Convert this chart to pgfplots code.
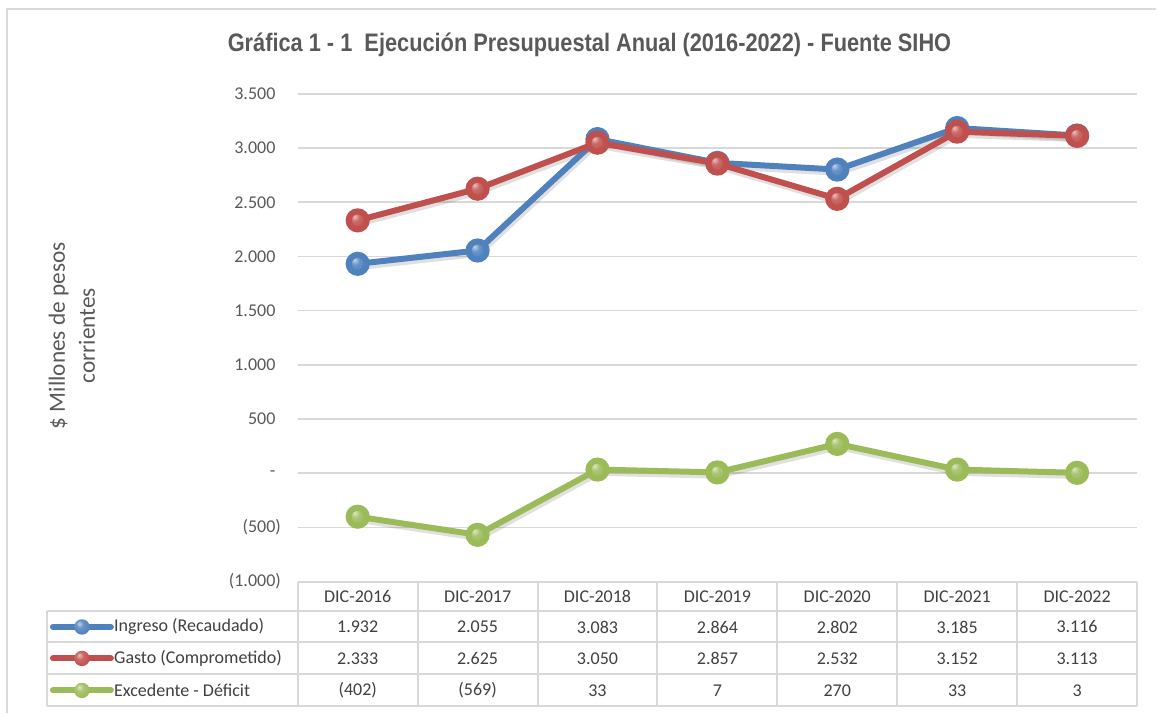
\documentclass[border=0pt]{standalone}
\usepackage{pgfplots}
\pgfplotsset{compat=1.18}
\usepackage{fontspec}
\setmainfont{Carlito}
\newfontfamily\titlefont[FakeStretch=0.86]{Liberation Sans}

\definecolor{cblue}{HTML}{4F81BD}
\definecolor{cred}{HTML}{C0504D}
\definecolor{cgreen}{HTML}{9BBB59}
\definecolor{gridc}{HTML}{D9D9D9}
\definecolor{txt}{HTML}{595959}
\definecolor{tabtxt}{HTML}{404040}

% Excel-like 3D balls: highlight up left, darker rim
\pgfdeclareradialshading{bb}{\pgfpoint{-9bp}{11bp}}{color(0bp)=(cblue!35!white); color(12bp)=(cblue!85!white); color(30bp)=(cblue); color(45bp)=(cblue!80!black); color(65bp)=(cblue!60!black)}
\pgfdeclareradialshading{br}{\pgfpoint{-9bp}{11bp}}{color(0bp)=(cred!35!white); color(12bp)=(cred!85!white); color(30bp)=(cred); color(45bp)=(cred!80!black); color(65bp)=(cred!60!black)}
\pgfdeclareradialshading{bg}{\pgfpoint{-9bp}{11bp}}{color(0bp)=(cgreen!35!white); color(12bp)=(cgreen!85!white); color(30bp)=(cgreen); color(45bp)=(cgreen!80!black); color(65bp)=(cgreen!60!black)}

\pgfdeclareplotmark{ballb}{\shade[shading=bb] (0pt,0pt) circle[radius=6.8pt];}
\pgfdeclareplotmark{ballr}{\shade[shading=br] (0pt,0pt) circle[radius=6.8pt];}
\pgfdeclareplotmark{ballg}{\shade[shading=bg] (0pt,0pt) circle[radius=6.8pt];}

\begin{document}
\begin{tikzpicture}
% everything outside the axis in reference pixels (1 px = 0.75pt, y downwards)
\begin{scope}[x=0.75pt,y=-0.75pt]
\path (0,0) rectangle (1157,714);
\draw[gridc, line width=1.5pt] (7,714) -- (7,9) -- (1157,9);

% title
\node[text=txt, font=\titlefont\bfseries\fontsize{19}{22}\selectfont] at (590,45)
  {Gráfica 1 - 1\ \ Ejecución Presupuestal Anual (2016-2022) - Fuente SIHO};

% y label
\node[rotate=90, align=center, text=txt, font=\fontsize{17.5}{22.5}\selectfont] at (72,336)
  {\$ Millones de pesos\\corrientes};
\end{scope}

\begin{axis}[
    at={(223.5pt,-436.5pt)}, anchor=south west,
    scale only axis, width=630pt, height=366pt,
    xmin=-0.5, xmax=6.5, ymin=-1000, ymax=3500,
    axis line style={draw=none},
    xtick=\empty,
    ytick={-1000,-500,0,500,1000,1500,2000,2500,3000,3500},
    yticklabels={(1.000),(500),-\hphantom{)},500\hphantom{)},1.000\hphantom{)},1.500\hphantom{)},2.000\hphantom{)},2.500\hphantom{)},3.000\hphantom{)},3.500\hphantom{)}},
    major tick length=0pt,
    ymajorgrids, grid style={gridc, line width=1.2pt},
    yticklabel style={font=\fontsize{13.5}{16}\selectfont, text=txt, anchor=east, inner sep=0pt, xshift=-12.5pt},
    /pgf/number format/assume math mode=true,
    clip=false,
    shadow/.style={black, opacity=0.12, line width=5pt, forget plot, transform canvas={xshift=1pt, yshift=-2.2pt}},
]
% soft shadows under the lines
\addplot[shadow] coordinates {
    (0,1932) (1,2055) (2,3083) (3,2864) (4,2802) (5,3185) (6,3116)};
\addplot[shadow] coordinates {
    (0,2333) (1,2625) (2,3050) (3,2857) (4,2532) (5,3152) (6,3113)};
\addplot[shadow] coordinates {
    (0,-402) (1,-569) (2,33) (3,7) (4,270) (5,33) (6,3)};
% Ingreso (Recaudado)
\addplot[cblue, line width=4.5pt, mark=ballb] coordinates {
    (0,1932) (1,2055) (2,3083) (3,2864) (4,2802) (5,3185) (6,3116)};
% Gasto (Comprometido)
\addplot[cred, line width=4.5pt, mark=ballr] coordinates {
    (0,2333) (1,2625) (2,3050) (3,2857) (4,2532) (5,3152) (6,3113)};
% Excedente - Deficit
\addplot[cgreen, line width=4.5pt, mark=ballg] coordinates {
    (0,-402) (1,-569) (2,33) (3,7) (4,270) (5,33) (6,3)};
\end{axis}

\begin{scope}[x=0.75pt,y=-0.75pt]
% data table below the plot
\begin{scope}[gridc, line width=1.5pt]
\draw (298,582) -- (1138,582);
\foreach \yy in {612,643,675,707} \draw (47,\yy) -- (1138,\yy);
\draw (47,612) -- (47,707);
\foreach \k in {0,...,7} \draw (298+120*\k,582) -- (298+120*\k,707);
\end{scope}

\begin{scope}[font=\fontsize{13.5}{16}\selectfont, text=tabtxt]
\foreach \lab [count=\i from 0] in {DIC-2016,DIC-2017,DIC-2018,DIC-2019,DIC-2020,DIC-2021,DIC-2022}
  \node at (358+120*\i,597) {\lab};
\foreach \v [count=\i from 0] in {1.932,2.055,3.083,2.864,2.802,3.185,3.116}
  \node at (358+120*\i,627.5) {\v};
\foreach \v [count=\i from 0] in {2.333,2.625,3.050,2.857,2.532,3.152,3.113}
  \node at (358+120*\i,659) {\v};
\foreach \v [count=\i from 0] in {(402),(569),33,7,270,33,3}
  \node at (358+120*\i,691) {\v};
\node[anchor=west, inner sep=0pt] at (114,627.5) {Ingreso (Recaudado)};
\node[anchor=west, inner sep=0pt] at (114,659) {Gasto (Comprometido)};
\node[anchor=west, inner sep=0pt] at (114,691) {Excedente - Déficit};
\end{scope}

% legend keys
\draw[cblue, line width=4.5pt, line cap=round] (53,627.5) -- (111,627.5);
\shade[shading=bb] (82,627.5) circle[radius=5.8pt];
\draw[cred, line width=4.5pt, line cap=round] (53,659) -- (111,659);
\shade[shading=br] (82,659) circle[radius=5.8pt];
\draw[cgreen, line width=4.5pt, line cap=round] (53,691) -- (111,691);
\shade[shading=bg] (82,691) circle[radius=5.8pt];
\end{scope}
\end{tikzpicture}
\end{document}
